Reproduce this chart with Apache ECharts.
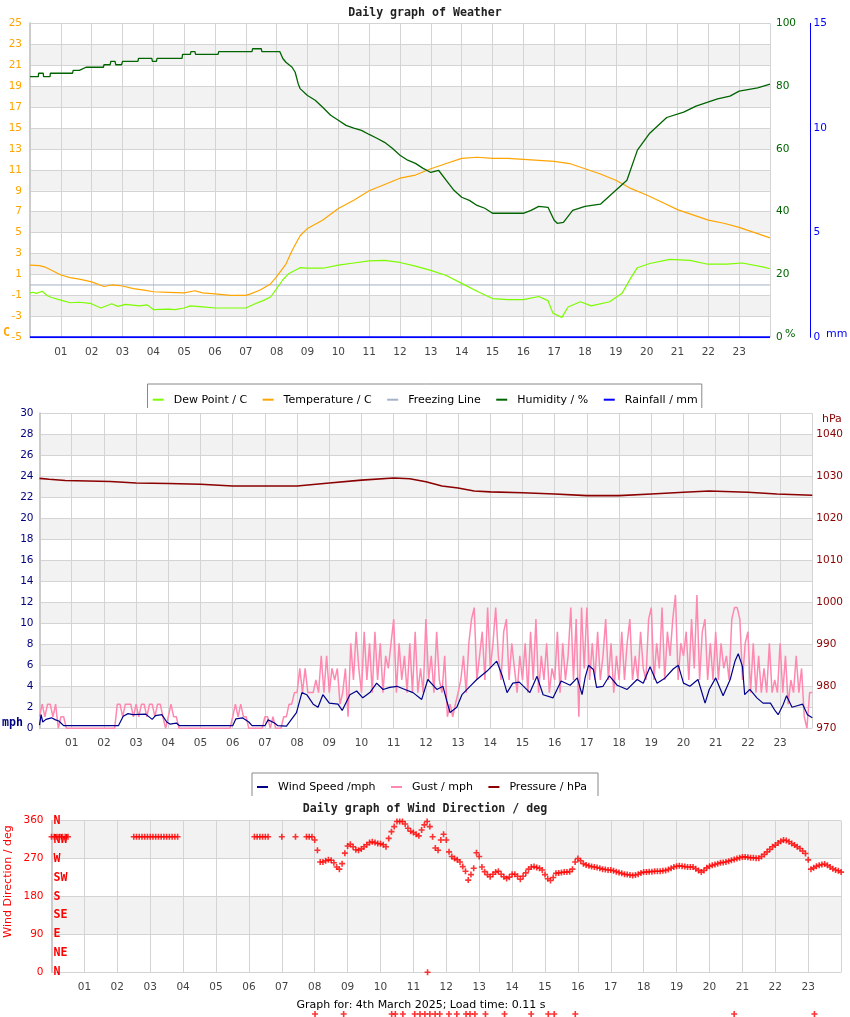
<!DOCTYPE html>
<html>
<head>
<meta charset="utf-8">
<title>Daily graph of Weather</title>
<script src="https://cdn.jsdelivr.net/npm/echarts@6/dist/echarts.min.js"></script>
<style>
  html, body { margin: 0; padding: 0; background: #fff; }
  #chart { width: 850px; height: 1017px; }
</style>
</head>
<body>
<div id="chart"></div>
<script>
// tick labels
var hourLabels = ['01','02','03','04','05','06','07','08','09','10','11','12',
                  '13','14','15','16','17','18','19','20','21','22','23'];
var compassLabels = ['N','NE','E','SE','S','SW','W','NW','N'];

// temperature / C
var tempHours = [0,0.3,0.5,0.7,1,1.3,1.6,2,2.4,2.65,3,3.35,3.7,4,4.5,5,5.35,5.6,6,6.5,7,7.15,7.45,7.8,8,8.3,8.5,8.76,9,9.5,
  10,10.5,11,11.5,12,12.5,13,13.5,14,14.5,15,15.5,16,16.5,17,17.5,18,18.5,19,19.5,20,20.5,21,21.5,22,22.5,23,23.5,24];
var temperature = [1.9,1.85,1.7,1.4,0.95,0.7,0.55,0.3,-0.15,0,-0.1,-0.35,-0.5,-0.65,-0.7,-0.75,-0.55,-0.75,-0.85,-1,-1,-0.85,-0.5,0.1,0.8,2,3.3,4.7,5.4,6.2,
  7.3,8.1,9,9.6,10.2,10.5,11.1,11.6,12.1,12.2,12.1,12.1,12,11.9,11.8,11.6,11.1,10.6,10,9.2,8.6,7.9,7.2,6.7,6.2,5.9,5.5,5,4.5];

// dew point / C
var dewHours = [0,0.1,0.15,0.2,0.4,0.55,0.7,1,1.3,1.6,1.95,2.3,2.65,2.85,3.1,3.55,3.8,4,4.5,4.7,5,5.2,5.6,6,6.5,7,7.3,7.6,7.8,8,
  8.2,8.4,8.76,9,9.5,10,10.5,11,11.5,12,12.5,13,13.5,14,14.5,15,15.5,16,16.5,16.8,16.96,17.25,17.45,17.85,18.2,18.8,19.2,19.5,19.7,20.1,
  20.75,21.4,21.95,22.6,23.1,23.8,24];
var dewPoint = [-0.75,-0.7,-0.55,-0.8,-0.6,-1,-1.2,-1.45,-1.7,-1.65,-1.75,-2.2,-1.8,-2.05,-1.85,-2,-1.9,-2.35,-2.3,-2.35,-2.2,-2,-2.1,-2.2,-2.2,-2.2,-1.8,-1.45,-1.15,-0.35,
  0.5,1.1,1.65,1.6,1.6,1.9,2.1,2.3,2.35,2.15,1.8,1.4,0.9,0.15,-0.6,-1.3,-1.4,-1.4,-1.1,-1.5,-2.7,-3.1,-2.1,-1.6,-2,-1.6,-0.8,0.75,1.65,2.05,
  2.45,2.35,2,2,2.1,1.7,1.55];

// humidity / %
var humHours = [0,0.27,0.28,0.43,0.44,0.65,0.66,1.38,1.4,1.6,1.82,2.38,2.4,2.6,2.62,2.76,2.78,2.97,3,3.5,3.52,3.95,3.97,4.1,4.12,4.93,4.95,5.2,5.22,5.35,
  5.37,6.1,6.12,7.2,7.22,7.5,7.52,8.1,8.2,8.3,8.5,8.6,8.7,8.76,9,9.25,9.5,9.75,10,10.25,10.5,10.75,11,11.25,11.5,11.75,12,12.25,12.5,12.75,
  13,13.25,13.5,13.75,14,14.25,14.5,14.75,15,16,16.25,16.5,16.8,17,17.1,17.3,17.6,18,18.5,18.75,19,19.36,19.7,20.1,20.65,21.2,21.6,22.3,22.7,23,
  23.6,24];
var humidity = [83,83,84.1,84.1,83,83,84.1,84.1,85,85,86,86,86.8,86.8,87.9,87.9,86.8,86.8,87.9,87.9,88.8,88.8,87.9,87.9,88.8,88.8,90.1,90.1,91,91,
  90.1,90.1,91,91,91.9,91.9,91,91,88.8,87.6,86,84.4,80.7,79.2,77,75.5,73.2,70.7,69.1,67.5,66.6,65.9,64.6,63.4,62.1,60.2,58,56.4,55.4,53.8,
  52.5,53.2,50,46.8,44.6,43.6,42,41.1,39.5,39.5,40.4,41.7,41.4,37.3,36.3,36.6,40.4,41.7,42.4,44.6,46.8,50,59.6,65,70,71.7,73.6,75.9,76.8,78.4,
  79.4,80.6];

// rainfall / mm and freezing line
var rainHours = [0, 24];
var rainfall = [0, 0];
var freezeHours = [0, 24];
var freezing = [0, 0];

// wind speed / mph
var windHours = [0,0.05,0.1,0.2,0.37,0.5,0.6,0.75,2.45,2.6,2.75,2.9,3.3,3.5,3.6,3.8,3.95,4.05,4.25,4.35,6,6.1,6.3,6.5,6.6,7,7.1,7.3,7.4,7.67,
  7.98,8.15,8.3,8.5,8.65,8.8,9,9.27,9.4,9.64,9.85,10.04,10.26,10.47,10.67,10.88,11.1,11.35,11.6,11.87,12.06,12.34,12.53,12.65,12.75,12.96,13.12,13.37,13.58,13.9,
  14.2,14.37,14.52,14.7,14.9,15.23,15.45,15.64,15.95,16.2,16.48,16.7,16.85,16.95,17.05,17.2,17.3,17.5,17.7,17.94,18.25,18.56,18.75,18.96,19.18,19.43,19.68,19.84,20,20.2,
  20.45,20.67,20.8,21,21.23,21.45,21.6,21.7,21.83,21.9,22.06,22.28,22.47,22.7,22.85,22.94,23.1,23.2,23.37,23.53,23.7,23.85,24];
var windSpeed = [0.3,1.3,0.6,0.85,1,0.8,0.7,0.25,0.25,1.15,1.4,1.3,1.35,0.85,1.2,1.3,0.6,0.4,0.5,0.25,0.25,0.9,1,0.6,0.25,0.25,0.8,0.5,0.25,0.2,
  1.5,3.4,3.2,2.3,2,3.2,2.4,2.3,1.7,3.2,3.55,2.9,3.4,4.3,3.7,3.9,4,3.7,3.4,2.75,4.65,3.7,4,2.6,1.5,2,3.2,4,4.65,5.45,
  6.4,5,3.4,4.3,4.4,3.4,4.95,3.2,2.9,4.5,4.1,4.8,3.2,4.9,6,5.6,3.9,4,5,4.1,3.7,4.65,4.3,5.86,4.3,4.8,5.65,6,4.3,4,
  4.65,2.4,3.7,4.8,3.1,4.65,6.4,7.1,5.9,3.2,3.7,2.9,2.4,2.4,1.65,1.3,2.3,3.1,2,2.15,2.3,1.3,1];

// gust / mph, one reading every 5 minutes (12 per hour)
var gust = [
  1.1,2.3,1.1,2.3,2.3,1.1,2.3,0,1.1,1.1,0,0,            // 00
  0,0,0,0,0,0,0,0,0,0,0,0,                              // 01
  0,0,0,0,0,2.3,2.3,1.1,2.3,2.3,2.3,1.1,                // 02
  2.3,1.1,2.3,2.3,1.1,2.3,2.3,1.1,2.3,2.3,1.1,0,        // 03
  1.1,2.3,1.1,1.1,0,0,0,0,0,0,0,0,                      // 04
  0,0,0,0,0,0,0,0,0,0,0,0,                              // 05
  1.1,2.3,1.1,2.3,1.1,1.1,0,0,0,0,0,0,                  // 06
  1.1,1.1,0,1.1,0,0,0,1.1,1.1,2.3,2.3,3.4,              // 07
  3.4,5.7,3.4,5.7,3.4,3.4,3.4,4.6,3.4,6.9,3.4,6.9,      // 08
  3.4,5.7,4.6,5.7,2.3,3.4,5.7,1.1,8.1,4.6,9.2,5.7,      // 09
  3.4,9.2,4.6,8.1,3.4,9.2,4.6,8.1,3.4,6.9,5.7,8.1,      // 10
  10.4,3.4,8.1,4.6,6.9,3.4,8.1,3.4,9.2,3.4,5.7,3.4,     // 11
  10.4,4.6,6.9,3.4,9.2,4.6,3.4,6.9,1.1,2.3,1.1,2.3,     // 12
  3.4,4.6,6.9,3.4,8.1,10.4,11.5,4.6,6.9,9.2,4.6,11.5,   // 13
  5.7,8.1,11.5,6.9,4.6,9.2,10.4,4.6,8.1,5.7,3.4,6.9,    // 14
  4.6,8.1,3.4,9.2,4.6,10.4,3.4,6.9,4.6,8.1,3.4,5.7,     // 15
  4.6,9.2,3.4,8.1,4.6,6.9,11.5,4.6,10.4,1.1,11.5,5.7,   // 16
  11.5,4.6,8.1,4.6,9.2,4.6,6.9,10.4,4.6,8.1,3.4,6.9,    // 17
  4.6,9.2,4.6,8.1,10.4,4.6,6.9,4.6,9.2,5.7,4.6,10.4,    // 18
  11.5,4.6,8.1,5.7,11.5,4.6,9.2,6.9,10.4,12.7,4.6,8.1,  // 19
  6.9,9.2,4.6,10.4,5.7,12.7,4.6,9.2,10.4,4.6,8.1,4.6,   // 20
  9.2,4.6,8.1,5.7,6.9,4.6,10.4,11.5,11.5,10.4,4.6,8.1,  // 21
  9.2,3.4,8.1,3.4,6.9,3.4,5.7,3.4,8.1,3.4,4.6,3.4,      // 22
  8.1,3.4,6.9,2.3,4.6,3.4,6.9,3.4,5.7,1.1,0,3.4,        // 23
  3.4
];

// pressure / hPa
var pressHours = [0,0.3,0.8,2.2,3,4,5,6,7,8,9,10,11,11.5,12,12.5,13,13.5,14,15,16,17,18,19,20,20.8,22,22.9,24];
var pressure = [1029.5,1029.3,1029,1028.75,1028.4,1028.3,1028.1,1027.7,1027.7,1027.7,1028.4,1029.1,1029.6,1029.4,1028.7,
  1027.7,1027.2,1026.5,1026.3,1026.1,1025.8,1025.4,1025.4,1025.8,1026.2,1026.5,1026.2,1025.8,1025.5];

// wind direction / deg, one reading every 5 minutes (null = no reading)
var windDir = [
  322,322,322,322,322,322,322,null,null,null,null,null,
  null,null,null,null,null,null,null,null,null,null,null,null,
  null,null,null,null,null,null,322,322,322,322,322,322,
  322,322,322,322,322,322,322,322,322,322,322,null,
  null,null,null,null,null,null,null,null,null,null,null,null,
  null,null,null,null,null,null,null,null,null,null,null,null,
  null,null,322,322,322,322,322,322,null,null,null,null,
  322,null,null,null,null,322,null,null,null,322,322,322,
  314,290,262,262,265,267,266,260,250,245,258,283,
  300,304,298,291,290,293,298,303,308,310,308,306,
  305,303,298,318,334,346,358,358,358,352,342,335,
  332,328,324,338,350,358,346,322,295,290,314,328,
  314,286,275,270,267,262,251,240,219,232,247,284,
  275,250,239,232,227,233,238,240,233,227,223,226,
  233,233,228,221,228,236,245,250,251,249,247,243,
  232,222,218,225,235,236,237,238,238,239,245,262,
  270,265,258,255,253,251,250,249,247,245,244,243,
  243,241,239,237,235,233,232,231,230,231,233,236,
  238,238,239,239,240,240,240,241,242,244,247,250,
  252,253,252,251,250,250,250,246,242,238,242,248,
  252,254,256,258,260,261,262,264,266,268,270,272,
  274,274,273,272,272,271,271,275,280,286,292,298,
  302,307,311,314,313,310,306,302,298,294,288,282,
  267,245,248,252,254,256,257,254,250,246,243,241,
  238
];
// odd readings (one at 0 deg, the rest logged as -99)
var extraHours = [11.43,8.01,8.88,10.34,10.45,10.68,11.04,11.2,11.35,11.5,11.66,11.8,12.08,12.32,12.6,12.72,12.87,13.19,13.77,14.58,15.1,15.28,15.92,20.75,23.19];
var extraDir = [0,-99,-99,-99,-99,-99,-99,-99,-99,-99,-99,-99,-99,-99,-99,-99,-99,-99,-99,-99,-99,-99,-99,-99,-99];

function pairs(xs, ys) {
  return xs.map(function (x, i) { return [x, ys[i]]; });
}
function every5min(ys) {
  return ys.map(function (y, i) { return [i / 12, y]; });
}

var FONT = 'DejaVu Sans';
var MONO = 'DejaVu Sans Mono';
var GRID_LINE = '#d4d4d4';
var BANDS = ['#ffffff', '#f2f2f2'];
var plusSymbol = 'path://M0,2.2H6V3.8H0ZM2.2,0H3.8V6H2.2Z';

function hourAxis(gridIndex) {
  return {
    type: 'value', gridIndex: gridIndex, min: 0, max: 24, interval: 1,
    axisLine: { show: false }, axisTick: { show: false },
    splitLine: { show: true, lineStyle: { color: GRID_LINE, width: 1 } },
    axisLabel: {
      color: '#444', fontSize: 10.5, fontFamily: FONT, margin: 9,
      formatter: function (v) { return hourLabels[v - 1] || ''; }
    }
  };
}

function lineSeries(name, x, y, data, color, width) {
  return {
    name: name, type: 'line', xAxisIndex: x, yAxisIndex: y, data: data,
    showSymbol: false, symbol: 'none', silent: true,
    itemStyle: { color: color }, lineStyle: { color: color, width: width }
  };
}

var chart = echarts.init(document.getElementById('chart'));

chart.setOption({
  animation: false,
  grid: [
    { left: 30, top: 23.3, width: 740, height: 314, outerBoundsMode: 'none' },
    { left: 39.5, top: 413.3, width: 772.8, height: 315, outerBoundsMode: 'none' },
    { left: 51.5, top: 820.7, width: 789.6, height: 151.6, outerBoundsMode: 'none' }
  ],
  xAxis: [hourAxis(0), hourAxis(1), hourAxis(2)],
  yAxis: [
    { // temperature
      type: 'value', gridIndex: 0, position: 'left', min: -5, max: 25, interval: 2,
      axisLine: { show: true, lineStyle: { color: '#cccccc', width: 2 } }, axisTick: { show: false },
      splitLine: { lineStyle: { color: GRID_LINE } },
      splitArea: { show: true, areaStyle: { color: BANDS } },
      axisLabel: { color: '#ffa500', fontSize: 10.5, fontFamily: FONT, margin: 8 }
    },
    { // humidity
      type: 'value', gridIndex: 0, position: 'right', min: 0, max: 100, interval: 20,
      axisLine: { show: false }, axisTick: { show: false }, splitLine: { show: false },
      axisLabel: { color: '#006400', fontSize: 10.5, fontFamily: FONT, margin: 6 }
    },
    { // rainfall
      type: 'value', gridIndex: 0, position: 'right', offset: 40.5, min: 0, max: 15, interval: 5,
      axisLine: { show: true, lineStyle: { color: '#0000ff', width: 1 } }, axisTick: { show: false },
      splitLine: { show: false },
      axisLabel: { color: '#0000ff', fontSize: 10.5, fontFamily: FONT, margin: 3 }
    },
    { // wind speed
      type: 'value', gridIndex: 1, position: 'left', min: 0, max: 30, interval: 2,
      axisLine: { show: true, lineStyle: { color: '#cccccc', width: 2 } }, axisTick: { show: false },
      splitLine: { lineStyle: { color: GRID_LINE } },
      splitArea: { show: true, areaStyle: { color: BANDS } },
      axisLabel: { color: '#000080', fontSize: 10.5, fontFamily: FONT, margin: 6 }
    },
    { // pressure
      type: 'value', gridIndex: 1, position: 'right', min: 970, max: 1045, interval: 10,
      axisLine: { show: false }, axisTick: { show: false }, splitLine: { show: false },
      axisLabel: {
        color: '#8b0000', fontSize: 10.5, fontFamily: FONT, margin: 4, showMaxLabel: false,
        formatter: function (v) { return String(v); }
      }
    },
    { // wind direction degrees
      type: 'value', gridIndex: 2, position: 'left', min: 0, max: 360, interval: 90,
      axisLine: { show: true, lineStyle: { color: '#cccccc', width: 2 } }, axisTick: { show: false },
      splitLine: { lineStyle: { color: GRID_LINE } },
      splitArea: { show: true, areaStyle: { color: BANDS } },
      axisLabel: { color: '#ff0000', fontSize: 10.5, fontFamily: FONT, margin: 8 }
    },
    { // compass points
      type: 'value', gridIndex: 2, position: 'left', min: 0, max: 360, interval: 45,
      axisLine: { show: false }, axisTick: { show: false }, splitLine: { show: false },
      axisLabel: {
        inside: true, margin: 2, color: '#ff0000', fontSize: 11.6, fontFamily: MONO, fontWeight: 'bold',
        padding: [0, 0, 6, 0],
        formatter: function (v) { return compassLabels[Math.round(v / 45)]; }
      }
    }
  ],
  legend: [
    {
      data: ['Dew Point / C', 'Temperature / C', 'Freezing Line', 'Humidity / %', 'Rainfall / mm'],
      left: 152.7, top: 392.7, padding: 0, itemGap: 15.5, itemWidth: 11, itemHeight: 2,
      icon: 'rect', selectedMode: false,
      textStyle: { fontSize: 11, fontFamily: FONT, color: '#000', padding: [0, 0, 0, 5], lineHeight: 14 }
    },
    {
      data: ['Wind Speed /mph', 'Gust / mph', 'Pressure / hPa'],
      left: 257, top: 780, padding: 0, itemGap: 15.5, itemWidth: 11, itemHeight: 2,
      icon: 'rect', selectedMode: false,
      textStyle: { fontSize: 11, fontFamily: FONT, color: '#000', padding: [0, 0, 0, 5], lineHeight: 14 }
    }
  ],
  graphic: [
    { type: 'text', x: 425, y: 13, style: { text: 'Daily graph of Weather', font: 'bold 11.6px "DejaVu Sans Mono"', fill: '#222', align: 'center', verticalAlign: 'middle' } },
    { type: 'text', x: 3, y: 333, style: { text: 'C', font: 'bold 11.6px "DejaVu Sans Mono"', fill: '#ffa500', align: 'left', verticalAlign: 'middle' } },
    { type: 'text', x: 785, y: 334, style: { text: '%', font: '11px "DejaVu Sans"', fill: '#006400', align: 'left', verticalAlign: 'middle' } },
    { type: 'text', x: 826, y: 334, style: { text: 'mm', font: '11px "DejaVu Sans"', fill: '#0000ff', align: 'left', verticalAlign: 'middle' } },
    { type: 'polyline', shape: { points: [[147.5, 408], [147.5, 384], [701.8, 384], [701.8, 408]] }, style: { stroke: '#888', fill: null, lineWidth: 1 } },
    { type: 'text', x: 2, y: 723, style: { text: 'mph', font: 'bold 11.6px "DejaVu Sans Mono"', fill: '#000080', align: 'left', verticalAlign: 'middle' } },
    { type: 'text', x: 822, y: 419, style: { text: 'hPa', font: '11px "DejaVu Sans"', fill: '#8b0000', align: 'left', verticalAlign: 'middle' } },
    { type: 'polyline', shape: { points: [[252, 796], [252, 773], [598, 773], [598, 796]] }, style: { stroke: '#888', fill: null, lineWidth: 1 } },
    { type: 'text', x: 425, y: 809, style: { text: 'Daily graph of Wind Direction / deg', font: 'bold 11.6px "DejaVu Sans Mono"', fill: '#222', align: 'center', verticalAlign: 'middle' } },
    { type: 'text', x: 8, y: 881.5, rotation: Math.PI / 2, style: { text: 'Wind Direction / deg', font: '11px "DejaVu Sans"', fill: '#ff0000', align: 'center', verticalAlign: 'middle' } },
    { type: 'text', x: 421, y: 1005, style: { text: 'Graph for: 4th March 2025; Load time: 0.11 s', font: '11px "DejaVu Sans"', fill: '#000', align: 'center', verticalAlign: 'middle' } }
  ],
  series: [
    lineSeries('Freezing Line', 0, 0, pairs(freezeHours, freezing), '#a4b2c8', 1),
    lineSeries('Temperature / C', 0, 0, pairs(tempHours, temperature), '#ffa500', 1.2),
    lineSeries('Dew Point / C', 0, 0, pairs(dewHours, dewPoint), '#7cfc00', 1.2),
    lineSeries('Humidity / %', 0, 1, pairs(humHours, humidity), '#006400', 1.3),
    lineSeries('Rainfall / mm', 0, 2, pairs(rainHours, rainfall), '#0000ff', 2),

    lineSeries('Gust / mph', 1, 3, every5min(gust), '#ff88b0', 1.5),
    lineSeries('Wind Speed /mph', 1, 3, pairs(windHours, windSpeed), '#00008b', 1.2),
    lineSeries('Pressure / hPa', 1, 4, pairs(pressHours, pressure), '#8b0000', 1.6),

    {
      name: 'Wind Direction', type: 'scatter', xAxisIndex: 2, yAxisIndex: 5,
      data: every5min(windDir).filter(function (d) { return d[1] !== null; }),
      symbol: plusSymbol, symbolSize: 6, itemStyle: { color: '#ff0000' }, silent: true
    },
    {
      name: 'Wind Direction extra', type: 'scatter', xAxisIndex: 2, yAxisIndex: 5, clip: false,
      data: pairs(extraHours, extraDir),
      symbol: plusSymbol, symbolSize: 6, itemStyle: { color: '#ff0000' }, silent: true
    }
  ]
});
</script>
</body>
</html>
